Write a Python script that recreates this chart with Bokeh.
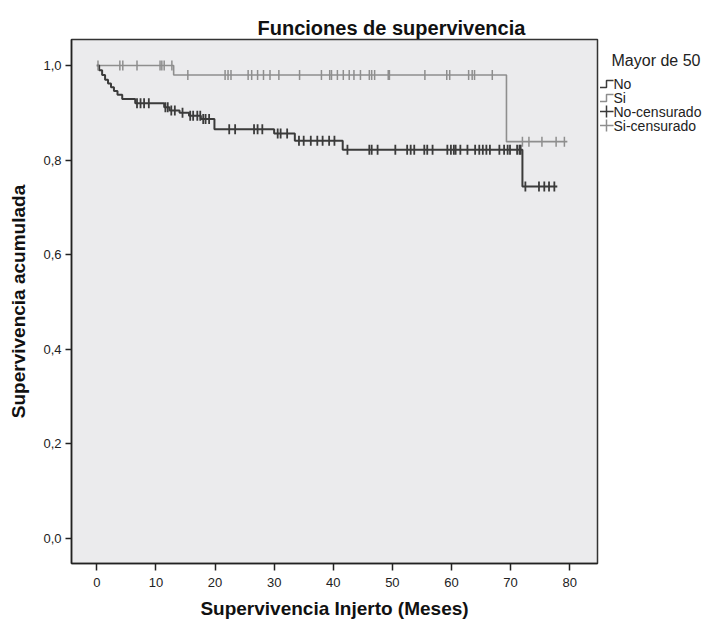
import numpy as np
from bokeh.plotting import figure
from bokeh.layouts import row
from bokeh.models import FixedTicker, Range1d
from bokeh.core.properties import value
from bokeh.embed import file_html
from bokeh.resources import INLINE

# ---------------- data ----------------
no_event_times = [0, 0.4, 0.9, 1.4, 1.9, 2.4, 2.9, 3.5, 4.3, 6.5, 11.4, 12.3, 14.0,
                  15.6, 17.6, 19.9, 30.0, 33.5, 41.6, 72.0]
no_surv = [1.0, 0.990, 0.980, 0.970, 0.962, 0.954, 0.946, 0.938, 0.929, 0.920, 0.912,
           0.905, 0.900, 0.894, 0.887, 0.865, 0.856, 0.841, 0.822, 0.744]
no_end = 77.9
no_censored = [6.8, 7.4, 8.0, 8.8, 11.6, 12.0, 12.6, 13.2, 14.5, 15.8, 16.3, 17.0, 17.5,
               18.0, 18.4, 19.0, 22.4, 23.4, 26.6, 27.2, 28.0, 30.6, 31.1, 32.2, 34.2,
               35.0, 36.2, 37.3, 38.2, 39.3, 40.2, 42.4, 46.1, 46.5, 47.5, 50.5, 52.5,
               53.1, 53.7, 55.4, 55.9, 56.8, 59.3, 59.9, 60.4, 60.7, 61.5, 62.7, 64.0,
               64.7, 65.3, 65.9, 66.5, 68.1, 68.9, 69.5, 69.9, 71.1, 71.5, 71.7, 72.5,
               74.8, 75.7, 76.5, 77.4]

si_event_times = [0, 13.0, 69.3]
si_surv = [1.0, 0.980, 0.839]
si_end = 79.6
si_censored = [0.2, 3.9, 4.4, 6.8, 10.7, 11.0, 11.4, 12.7, 15.4, 21.7, 22.2, 22.7, 25.6,
               26.2, 27.2, 28.2, 29.3, 30.8, 34.3, 38.0, 39.4, 39.7, 40.7, 41.7, 42.7,
               43.5, 44.6, 46.1, 46.5, 47.0, 49.3, 49.5, 55.5, 59.2, 59.7, 62.9, 63.5,
               63.9, 66.9, 72.0, 73.1, 75.3, 77.7, 79.1]

x_ticks = [0, 10, 20, 30, 40, 50, 60, 70, 80]
y_ticks = [0.0, 0.2, 0.4, 0.6, 0.8, 1.0]
y_tick_labels = ["0,0", "0,2", "0,4", "0,6", "0,8", "1,0"]

legend_title = "Mayor de 50"
legend_labels = ["No", "Si", "No-censurado", "Si-censurado"]

# ---------------- styles ----------------
NO_COLOR = "#3b3b3b"
SI_COLOR = "#8e8e8e"
FONT = "Liberation Sans"
H = 621
TOP = 39
BOTTOM = 58


def surv_at(t, times, surv):
    idx = np.searchsorted(np.asarray(times), np.asarray(t), side="right") - 1
    return np.asarray(surv)[idx]


p = figure(width=599, height=H, x_range=Range1d(-4.28, 84.7), y_range=Range1d(-0.053, 1.055),
           output_backend="svg", toolbar_location=None,
           min_border_left=71, min_border_right=2, min_border_top=TOP, min_border_bottom=BOTTOM,
           background_fill_color="#ebebed", border_fill_color="white")

p.title.text = "Funciones de supervivencia"
p.title.text_font = FONT
p.title.text_font_size = "20px"
p.title.text_font_style = "bold"
p.title.text_color = "#111111"
p.title.align = "left"
p.title.offset = 186
p.title.standoff = 1

p.xgrid.visible = False
p.ygrid.visible = False
p.outline_line_color = "#333333"
p.outline_line_width = 1.5

for ax in (p.xaxis[0], p.yaxis[0]):
    ax.axis_line_color = "#222222"
    ax.axis_line_width = 1.5
    ax.major_tick_line_color = "#222222"
    ax.major_tick_line_width = 1.5
    ax.major_tick_in = 0
    ax.minor_tick_line_color = None
    ax.major_label_text_font = FONT
    ax.major_label_text_font_size = "13px"
    ax.major_label_text_color = "#222222"
    ax.axis_label_text_font = FONT
    ax.axis_label_text_font_style = "bold"
    ax.axis_label_text_color = "#111111"

p.xaxis.ticker = FixedTicker(ticks=x_ticks)
p.xaxis.major_tick_out = 7
p.xaxis.major_label_standoff = 7
p.xaxis.axis_label = "Supervivencia Injerto (Meses)"
p.xaxis.axis_label_text_font_size = "19px"
p.xaxis.axis_label_standoff = 8

p.yaxis.ticker = FixedTicker(ticks=y_ticks)
p.yaxis.major_label_overrides = {t: l for t, l in zip(y_ticks, y_tick_labels)}
p.yaxis.major_tick_out = 6
p.yaxis.major_label_standoff = 4
p.yaxis.axis_label = "Supervivencia acumulada"
p.yaxis.axis_label_text_font_size = "19px"
p.yaxis.axis_label_standoff = 11

# step curves
no_x = list(no_event_times) + [no_end]
no_y = list(no_surv) + [no_surv[-1]]
si_x = list(si_event_times) + [si_end]
si_y = list(si_surv) + [si_surv[-1]]

p.step(x=si_x, y=si_y, mode="after", line_color=SI_COLOR, line_width=1.6)
p.step(x=no_x, y=no_y, mode="after", line_color=NO_COLOR, line_width=2)

# censoring marks
p.scatter(x=si_censored, y=surv_at(si_censored, si_event_times, si_surv), marker="dash",
          angle=np.pi / 2, size=10, line_color=SI_COLOR, line_width=1.5)
p.scatter(x=no_censored, y=surv_at(no_censored, no_event_times, no_surv), marker="dash",
          angle=np.pi / 2, size=10, line_color=NO_COLOR, line_width=1.8)

# ---------------- legend panel (page pixel coordinates) ----------------
lg = figure(width=112, height=H, x_range=Range1d(599, 711), y_range=Range1d(563, 39),
            output_backend="svg", toolbar_location=None, x_axis_location=None,
            y_axis_location=None, min_border_left=0, min_border_right=0,
            min_border_top=TOP, min_border_bottom=BOTTOM, outline_line_color=None,
            background_fill_color="white", border_fill_color="white")
lg.xgrid.visible = False
lg.ygrid.visible = False

lg.text(x=[611], y=[60], text=[legend_title], text_font=value(FONT), text_font_size="16px",
        text_baseline="middle", text_color="#222222")

row_y = [83, 97, 111, 125]
colors = [NO_COLOR, SI_COLOR, NO_COLOR, SI_COLOR]
lg.text(x=[613] * 4, y=row_y, text=legend_labels, text_font=value(FONT),
        text_font_size="14px", text_baseline="middle", text_color="#222222")
for yy, c in zip(row_y[:2], colors[:2]):
    lg.line(x=[599.5, 606, 606, 613], y=[yy + 4, yy + 4, yy - 3, yy - 3], line_color=c,
            line_width=1.5)
for yy, c in zip(row_y[2:], colors[2:]):
    lg.line(x=[599.5, 613], y=[yy, yy], line_color=c, line_width=1.5)
    lg.line(x=[606, 606], y=[yy - 6, yy + 6], line_color=c, line_width=1.5)

layout = row(p, lg)
open("out.html", "w").write(file_html(layout, INLINE))
